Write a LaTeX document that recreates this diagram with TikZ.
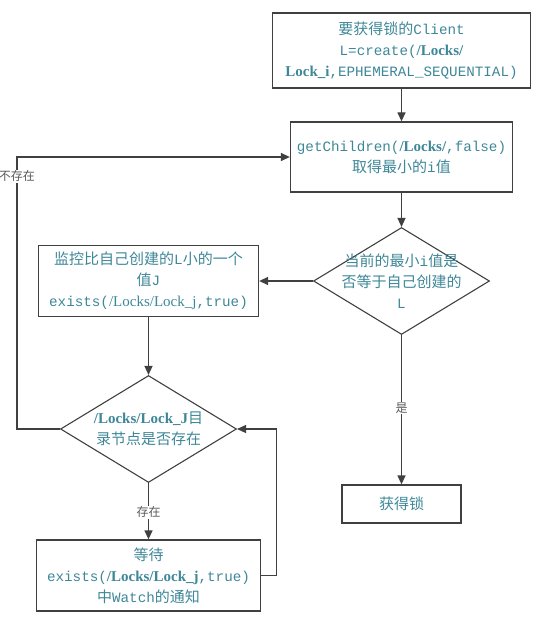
\documentclass[tikz,border=0pt]{standalone}
\usepackage{fontspec}
\setmainfont{Liberation Serif}
\setmonofont[Scale=0.95]{Liberation Mono}
\newfontfamily\cjk{Noto Sans CJK SC}
\usetikzlibrary{shapes.geometric,arrows.meta}
\definecolor{txtc}{RGB}{62,135,152}
\definecolor{linec}{RGB}{64,64,64}
\newcommand{\lk}[1]{{\rmfamily\bfseries #1}}
\newcommand{\lr}[1]{{\rmfamily #1}}
\tikzset{
  box/.style={draw=linec, line width=1.3pt, rectangle, inner sep=0pt},
  decision/.style={draw=linec, line width=1.1pt, diamond, inner sep=0pt,
    minimum width=176pt, minimum height=107pt},
  txt/.style={text=txtc, align=center, font=\cjk\fontsize{15}{21}\selectfont},
  flow/.style={draw=linec, line width=1.3pt, -{Triangle[length=9pt,width=8pt]}},
  tag/.style={fill=white, text=black!65, inner sep=1pt,
    font=\cjk\fontsize{12}{14}\selectfont}
}
\begin{document}
\begin{tikzpicture}[x=1pt, y=-1pt]
  \useasboundingbox (0,0) rectangle (538,628);

  \node[box, txt, minimum width=258pt, minimum height=75pt] (client) at (401.5,50.5)
    {要获得锁的\texttt{Client}\\\texttt{L=create(}\lk{/Locks/}\\\lk{Lock\_i}\texttt{,EPHEMERAL\_SEQUENTIAL)}};
  \node[box, txt, minimum width=222pt, minimum height=70pt] (children) at (401.5,157)
    {\texttt{getChildren(}\lk{/Locks/}\texttt{,false)}\\取得最小的\texttt{i}值};
  \node[decision] (isMin) at (401.5,281) {};
  \node[txt] (isMinText) at (isMin) {当前的最小\texttt{i}值是\\否等于自己创建的\\\texttt{L}};
  \node[box, txt, minimum width=220pt, minimum height=71pt] (watchPrev) at (148.5,281)
    {监控比自己创建的\texttt{L}小的一个\\值\texttt{J}\\\texttt{exists(}\lr{/Locks/Lock\_j}\texttt{,true)}};
  \node[decision] (exists) at (148.5,429) {};
  \node[txt] (existsText) at (exists) {\lk{/Locks/Lock\_J}目\\录节点是否存在};
  \node[box, txt, minimum width=224pt, minimum height=71pt] (waitNotify) at (148.5,575.5)
    {等待\\\texttt{exists(}\lk{/Locks/Lock\_j}\texttt{,true)}\\中\texttt{Watch}的通知};
  \node[box, txt, minimum width=119pt, minimum height=38pt] (getLock) at (401.5,504) {获得锁};

  \draw[flow] (client) -- (children);
  \draw[flow] (children) -- (isMin);
  \draw[flow] (isMin) -- (watchPrev);
  \draw[flow] (isMin) -- node[tag, pos=0.49]{是} (getLock);
  \draw[flow] (watchPrev) -- (exists);
  \draw[flow] (exists) -- node[tag, pos=0.52]{存在} (waitNotify);
  \draw[flow] (exists.west) -- ++(-43,0) |- node[tag, pos=0.465]{不存在} (children.west);
  \draw[flow] (waitNotify.east) -- ++(15,0) |- (exists.east);
\end{tikzpicture}
\end{document}
